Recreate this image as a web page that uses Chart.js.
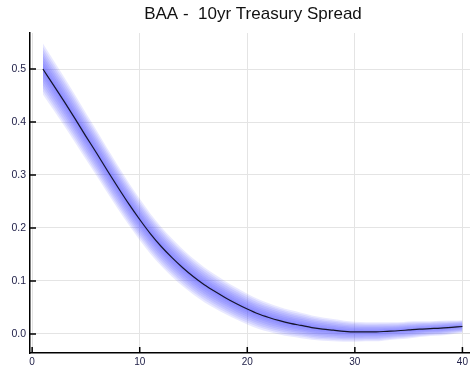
<!DOCTYPE html>
<html>
<head>
<meta charset="utf-8">
<script src="https://cdn.jsdelivr.net/npm/chart.js@4.4.1/dist/chart.umd.min.js"></script>
<style>
  html, body { margin: 0; padding: 0; background: #fff; }
  #wrap { width: 471px; height: 375px; }
</style>
</head>
<body>
<div id="wrap"><canvas id="spread"></canvas></div>
<script>
// horizon (x) and estimated spread (y)
const horizon = [1, 2, 3, 4, 5, 6, 7, 8, 9, 10,
  11, 12, 13, 14, 15, 16, 17, 18, 19, 20,
  21, 22, 23, 24, 25, 26, 27, 28, 29, 30,
  31, 32, 33, 34, 35, 36, 37, 38, 39, 40];
const spread = [0.500, 0.469, 0.438, 0.406, 0.373, 0.341, 0.308, 0.276, 0.245, 0.216,
  0.189, 0.165, 0.144, 0.125, 0.108, 0.093, 0.080, 0.068, 0.057, 0.047,
  0.038, 0.031, 0.025, 0.020, 0.016, 0.012, 0.009, 0.007, 0.005, 0.004,
  0.004, 0.004, 0.005, 0.006, 0.0075, 0.009, 0.010, 0.011, 0.0125, 0.014];
// half width of the outer band
const bandWidth = [0.048, 0.047, 0.046, 0.045, 0.044, 0.043, 0.042, 0.041, 0.040, 0.039,
  0.038, 0.037, 0.036, 0.035, 0.034, 0.033, 0.032, 0.031, 0.030, 0.029,
  0.028, 0.027, 0.026, 0.025, 0.024, 0.023, 0.022, 0.021, 0.020, 0.019,
  0.018, 0.018, 0.017, 0.016, 0.016, 0.015, 0.014, 0.014, 0.013, 0.012];
const bandLevels = [1.0, 0.875, 0.75, 0.625, 0.5, 0.375, 0.25, 0.125];
const xTicks = [0, 10, 20, 30, 40];
const yTicks = [0.0, 0.1, 0.2, 0.3, 0.4, 0.5];

// line first so it is drawn on top of the bands
const datasets = [{
  data: horizon.map((x, i) => ({ x: x, y: spread[i] })),
  borderColor: "#15152a",
  borderWidth: 1.2,
  pointRadius: 0,
  cubicInterpolationMode: "monotone",
  fill: false,
}];
bandLevels.forEach((f) => {
  datasets.push({
    data: horizon.map((x, i) => ({ x: x, y: spread[i] + bandWidth[i] * f })),
    borderWidth: 0,
    pointRadius: 0,
    cubicInterpolationMode: "monotone",
    backgroundColor: "rgba(85,85,255,0.13)",
    fill: "+1",
  });
  datasets.push({
    data: horizon.map((x, i) => ({ x: x, y: spread[i] - bandWidth[i] * f })),
    borderWidth: 0,
    pointRadius: 0,
    cubicInterpolationMode: "monotone",
    fill: false,
  });
});

// title centred over plot area, and short inward tick marks
const extras = {
  id: "extras",
  afterDraw(chart) {
    const ctx = chart.ctx;
    const a = chart.chartArea;
    const xs = chart.scales.x;
    const ys = chart.scales.y;
    ctx.save();
    ctx.strokeStyle = "#000";
    ctx.lineWidth = 1.5;
    ctx.beginPath();
    xs.ticks.forEach((t, i) => {
      const px = xs.getPixelForTick(i);
      ctx.moveTo(px, a.bottom);
      ctx.lineTo(px, a.bottom - 6);
    });
    ys.ticks.forEach((t, i) => {
      const py = ys.getPixelForTick(i);
      ctx.moveTo(a.left, py);
      ctx.lineTo(a.left + 6, py);
    });
    ctx.stroke();
    ctx.fillStyle = "#111";
    ctx.font = "17px 'Liberation Sans', Arial, sans-serif";
    ctx.textAlign = "center";
    ctx.textBaseline = "middle";
    ctx.fillText("BAA -  10yr Treasury Spread", (a.left + a.right) / 2 + 3, 14);
    ctx.restore();
  },
};

const ctxSpread = document.getElementById("spread").getContext("2d");
const chartSpread = new Chart(ctxSpread, {
  type: "line",
  data: { datasets: datasets },
  plugins: [extras],
  options: {
    responsive: true,
    maintainAspectRatio: false,
    animation: false,
    layout: {
      padding: { top: 33, right: 1, left: 0, bottom: 0 },
    },
    plugins: {
      legend: { display: false },
      tooltip: { enabled: false },
      filler: { propagate: false },
    },
    scales: {
      x: {
        type: "linear",
        min: -0.2,
        max: 40.7,
        afterBuildTicks: (s) => { s.ticks = xTicks.map((v) => ({ value: v })); },
        afterFit: (s) => { s.height = 22; },
        grid: { color: "#e4e4e4", lineWidth: 1, drawTicks: false },
        border: { color: "#000", width: 1.5 },
        ticks: {
          color: "#22224a",
          padding: 3,
          font: { size: 10, family: "'Liberation Sans', Arial, sans-serif" },
        },
      },
      y: {
        min: -0.036,
        max: 0.568,
        afterBuildTicks: (s) => { s.ticks = yTicks.map((v) => ({ value: v })); },
        afterFit: (s) => { s.width = 30; },
        grid: { color: "#e4e4e4", lineWidth: 1, drawTicks: false },
        border: { color: "#000", width: 1.5 },
        ticks: {
          color: "#22224a",
          padding: 4,
          callback: (v) => v.toFixed(1),
          font: { size: 10.5, family: "'Liberation Sans', Arial, sans-serif" },
        },
      },
    },
  },
});
</script>
</body>
</html>
